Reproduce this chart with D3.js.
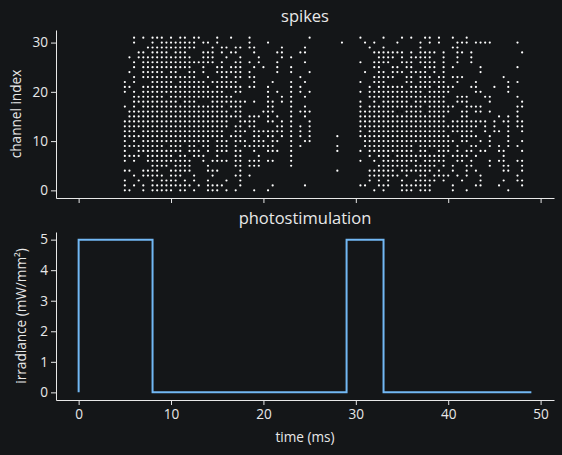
<!DOCTYPE html>
<html>
<head>
<meta charset="utf-8">
<script src="https://cdn.jsdelivr.net/npm/d3@7"></script>
<style>
  body { margin: 0; background: #141618; }
</style>
</head>
<body>
<div id="chart"></div>
<script>

  // spike raster: one list per channel (index = channel), values are time bins
  var binMs = 0.5
  var spikeBins = [
    [10,11,14,16,17,18,19,20,22,23,25,28,29,30,32,34,38,41,64,66,70,71,72,74,75,76,81,84,93],
    [10,12,14,16,17,18,19,20,21,22,23,24,26,28,29,30,31,35,42,49,61,62,65,66,67,70,71,72,73,74,75,76,81,86,87,91,96],
    [10,13,16,18,19,20,21,23,25,28,32,35,63,65,67,70,73,74,75,76,77,79,83,87,92,95,96],
    [12,14,15,16,17,18,20,21,22,25,29,34,35,37,63,64,65,66,67,68,69,71,74,75,77,78,79,80,82,84,87,95],
    [10,11,14,15,16,17,20,21,22,23,24,28,29,30,35,56,63,64,65,66,67,68,70,71,72,73,74,75,76,78,81,84,86,92,93,96],
    [16,17,18,19,21,22,23,24,28,34,35,37,38,39,46,65,66,67,68,69,70,71,73,74,75,76,77,79,81,84,85,89,92,93,96],
    [10,12,15,16,17,18,19,20,21,22,23,24,27,29,30,31,32,34,35,37,38,39,41,42,46,61,64,66,67,68,69,70,71,72,73,75,76,77,78,79,82,83,85,89,91,92,95,96],
    [10,11,12,13,15,16,17,18,19,20,22,23,25,26,27,30,34,35,39,46,63,65,66,67,69,70,71,72,73,74,75,76,77,78,79,81,82,83,84,86,92],
    [10,13,14,15,16,17,18,19,20,21,22,24,25,26,28,30,31,32,34,35,38,41,42,43,46,56,61,63,64,65,66,67,68,69,70,71,72,74,75,78,79,80,82,84,85,87,88,91,92,96],
    [10,11,12,13,14,15,16,17,18,20,21,22,24,25,27,28,30,31,32,34,36,37,38,39,40,41,42,46,48,56,62,63,64,65,66,67,68,69,70,71,72,74,75,76,77,78,79,80,82,85,86,89,91,93,95],
    [10,12,14,15,16,17,18,19,20,21,22,23,24,25,26,27,28,30,31,32,34,35,36,38,39,40,42,43,46,49,50,62,63,64,65,66,67,68,69,70,71,72,73,74,75,76,77,78,79,80,81,83,84,87,89,93,96],
    [10,11,12,13,14,15,16,17,18,19,20,21,22,23,24,25,26,27,28,29,30,31,33,34,35,38,39,41,42,44,46,48,50,56,61,62,63,64,65,66,67,68,69,70,71,72,73,74,75,76,77,78,79,80,83,84,85,86,89,93],
    [10,11,12,14,15,16,17,18,19,20,21,22,23,24,25,26,27,28,29,30,31,34,35,36,38,39,40,41,42,43,44,46,48,50,61,63,64,65,66,67,68,69,70,71,72,73,74,75,76,77,78,79,81,82,83,84,85,88,90,91,93,96],
    [10,11,12,13,14,15,16,17,18,19,20,21,22,23,24,25,26,27,28,29,30,31,32,34,35,37,38,43,44,46,48,50,61,62,63,64,65,66,67,68,69,70,71,72,73,74,75,76,77,78,79,80,81,82,83,84,85,86,88,90,93,95,96],
    [10,11,12,13,14,15,16,17,18,19,20,21,22,23,24,25,26,27,28,29,30,31,32,35,36,37,38,41,42,44,46,50,61,62,63,64,65,66,67,68,69,70,71,72,73,74,75,76,77,78,79,81,82,83,84,85,86,87,88,90,92,93,95,96],
    [11,12,13,14,15,16,17,18,19,20,21,22,23,24,25,26,27,28,29,30,31,32,33,34,35,37,38,39,41,43,46,49,61,62,63,64,65,66,67,68,69,70,71,72,73,74,75,76,77,78,79,83,84,91,93,95],
    [11,12,13,14,15,16,17,18,19,20,21,22,23,24,25,26,27,28,29,30,31,32,34,35,40,41,42,46,48,49,50,61,62,63,64,65,66,67,68,71,72,73,74,76,77,78,79,80,83,84,86,87,89,95],
    [10,12,14,15,16,17,18,19,20,21,22,23,24,25,26,27,28,29,30,31,33,34,35,41,42,46,49,61,63,64,65,66,67,68,69,70,71,72,73,74,76,77,78,79,80,81,84,85,86,87,95,96],
    [12,13,14,15,16,17,18,19,20,21,23,24,25,29,30,31,32,33,34,35,36,38,41,42,44,46,61,64,66,67,68,69,70,71,73,74,75,76,77,78,79,82,83,84,89,96],
    [12,13,14,15,16,17,18,20,21,22,23,24,25,26,27,28,29,30,31,32,33,41,44,46,49,63,64,65,66,67,68,69,70,71,72,73,74,75,76,77,78,79,82,83,84,88,89,95],
    [10,12,14,15,16,17,18,19,20,21,22,23,24,25,26,27,28,29,30,31,34,35,41,43,46,48,50,61,63,64,65,66,67,68,69,70,71,72,73,74,76,77,78,79,80,86,87,93],
    [10,11,14,15,16,17,18,19,20,21,22,23,24,25,26,27,28,30,31,32,33,34,35,37,38,41,46,48,63,65,66,67,68,69,70,72,73,74,75,76,78,79,80,81,85,86,90,93],
    [10,12,16,17,18,19,20,22,23,24,25,26,27,29,30,31,32,33,34,38,42,46,49,61,64,65,66,71,72,74,75,76,77,78,79,82,86,93,95],
    [12,14,15,16,17,18,19,20,21,22,23,24,25,28,31,32,34,35,37,38,48,64,65,66,67,68,71,72,74,75,76,78,79,81,82,83,92],
    [11,14,15,16,17,18,20,21,24,25,27,30,31,32,33,34,35,37,43,46,50,62,65,66,68,69,70,72,73,74,75,77,79,87],
    [12,14,15,16,17,18,19,20,21,22,23,24,27,30,31,33,34,35,38,40,43,46,64,65,68,69,71,72,75,76,77,79,81,87,95],
    [12,14,15,16,17,18,19,20,21,22,23,24,25,26,27,28,29,31,34,35,37,39,43,49,61,64,65,66,67,70,71,72,74,75,76,77,79,82,85],
    [11,13,14,15,16,17,18,19,20,21,22,23,24,27,28,29,32,35,39,44,46,65,66,67,68,70,72,73,74,75,76,79,82,85],
    [13,14,16,17,18,19,21,22,23,27,28,29,31,33,34,38,43,44,48,49,64,65,66,67,68,69,70,72,74,75,76,77,79,82,83,85,96],
    [15,16,17,18,19,20,21,22,23,24,25,29,31,32,34,35,37,38,44,49,63,66,74,81,82],
    [12,16,18,19,20,21,22,23,24,25,27,28,30,37,41,57,62,64,69,74,76,78,82,83,84,86,87,88,89,95],
    [12,14,16,17,18,20,22,23,25,26,30,33,37,50,61,66,70,72,75,76,78,81,84]
  ]

  // photostimulation trace (ms, mW/mm²)
  var stimTimes = [0, 0, 8, 8, 29, 29, 33, 33, 49]
  var stimValues = [0, 5, 5, 0, 0, 5, 5, 0, 0]

  // ticks
  var timeTicks = [0, 10, 20, 30, 40, 50]
  var channelTicks = [0, 10, 20, 30]
  var irradianceTicks = [0, 1, 2, 3, 4, 5]

  var fg = "#e8e8e8"
  var font = "'Open Sans', 'Noto Sans', sans-serif"
  var labelSize = 13.6
  var titleSize = 16.5

  var width = 562, height = 455

  var svg = d3.select("#chart").append("svg")
      .attr("width", width)
      .attr("height", height)

  svg.append("rect")
      .attr("width", width)
      .attr("height", height)
      .attr("fill", "#141618")

  // flatten the raster into points
  var spikes = []
  spikeBins.forEach(function(bins, ch) {
    bins.forEach(function(b) { spikes.push({t: b * binMs, ch: ch}) })
  })

  // scales, matplotlib style 5% padding around the data
  var xScale = d3.scaleLinear().domain([-2.45, 51.45]).range([56, 554])
  var yTop = d3.scaleLinear().domain([-1.55, 32.55]).range([198, 30])
  var yBot = d3.scaleLinear().domain([-0.25, 5.25]).range([400, 232])

  function styleAxis(g) {
    g.attr("color", fg)
      .attr("font-family", font)
      .attr("font-size", labelSize)
    g.selectAll("text").attr("fill", fg)
  }

  // top panel axes
  svg.append("g")
      .attr("transform", "translate(0,198)")
      .call(d3.axisBottom(xScale).tickValues(timeTicks).tickFormat("").tickSize(5).tickSizeOuter(0))
      .call(styleAxis)

  svg.append("g")
      .attr("transform", "translate(56,0)")
      .call(d3.axisLeft(yTop).tickValues(channelTicks).tickSize(5).tickPadding(3).tickSizeOuter(0))
      .call(styleAxis)

  // bottom panel axes
  svg.append("g")
      .attr("transform", "translate(0,400)")
      .call(d3.axisBottom(xScale).tickValues(timeTicks).tickFormat(d3.format("d")).tickSize(5).tickPadding(4).tickSizeOuter(0))
      .call(styleAxis)

  svg.append("g")
      .attr("transform", "translate(56,0)")
      .call(d3.axisLeft(yBot).tickValues(irradianceTicks).tickFormat(d3.format("d")).tickSize(5).tickPadding(3).tickSizeOuter(0))
      .call(styleAxis)

  // raster dots
  svg.append("g").selectAll(".dot")
      .data(spikes)
    .enter().append("circle")
      .attr("class", "dot")
      .attr("cx", function(d) { return xScale(d.t) })
      .attr("cy", function(d) { return yTop(d.ch) })
      .attr("r", 1.1)
      .attr("fill", "#ffffff")

  // stimulation line
  var line = d3.line()
      .x(function(d, i) { return xScale(stimTimes[i]) })
      .y(function(d, i) { return yBot(stimValues[i]) })

  svg.append("path")
      .datum(stimTimes)
      .attr("d", line)
      .attr("fill", "none")
      .attr("stroke", "#72b8f4")
      .attr("stroke-width", 2)

  // titles and labels
  svg.append("text")
      .attr("x", 305).attr("y", 22)
      .attr("text-anchor", "middle")
      .attr("font-family", font).attr("font-size", titleSize)
      .attr("fill", fg)
      .text("spikes")

  svg.append("text")
      .attr("x", 305).attr("y", 224)
      .attr("text-anchor", "middle")
      .attr("font-family", font).attr("font-size", titleSize)
      .attr("fill", fg)
      .text("photostimulation")

  svg.append("text")
      .attr("x", 305).attr("y", 442)
      .attr("text-anchor", "middle")
      .attr("font-family", font).attr("font-size", labelSize)
      .attr("fill", fg)
      .text("time (ms)")

  svg.append("text")
      .attr("transform", "translate(21,114) rotate(-90)")
      .attr("text-anchor", "middle")
      .attr("font-family", font).attr("font-size", labelSize)
      .attr("fill", fg)
      .text("channel index")

  svg.append("text")
      .attr("transform", "translate(26,316) rotate(-90)")
      .attr("text-anchor", "middle")
      .attr("font-family", font).attr("font-size", labelSize)
      .attr("fill", fg)
      .text("irradiance (mW/mm²)")

</script>
</body>
</html>
